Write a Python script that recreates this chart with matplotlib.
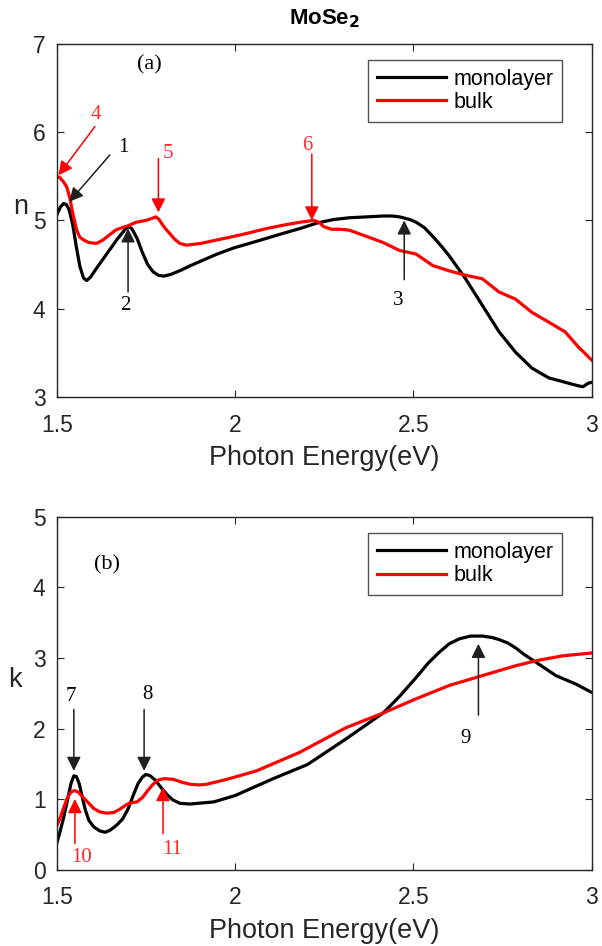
import numpy as np
from matplotlib import pyplot as plt

plt.rcParams['font.family'] = ['Liberation Sans', 'DejaVu Sans']

# (a) refractive index n
n_mono_x = [1.500, 1.51, 1.519, 1.527, 1.535, 1.545, 1.555, 1.565, 1.575, 1.584, 1.595,
            1.61, 1.64, 1.67, 1.69, 1.70, 1.71, 1.725, 1.74, 1.755, 1.77, 1.785, 1.80,
            1.82, 1.85, 1.87, 1.904, 1.95, 1.997, 2.04, 2.09, 2.14, 2.183, 2.229, 2.276,
            2.32, 2.368, 2.415, 2.44, 2.461, 2.49, 2.507, 2.53, 2.554, 2.58, 2.60, 2.646,
            2.693, 2.74, 2.786, 2.832, 2.879, 2.925, 2.962, 2.975, 2.99, 3.0]
n_mono_y = [5.06, 5.15, 5.19, 5.18, 5.12, 4.95, 4.70, 4.48, 4.35, 4.32, 4.36,
            4.45, 4.62, 4.79, 4.89, 4.93, 4.91, 4.80, 4.64, 4.50, 4.42, 4.38, 4.37,
            4.39, 4.44, 4.48, 4.54, 4.62, 4.69, 4.74, 4.80, 4.86, 4.91, 4.97, 5.01,
            5.03, 5.04, 5.05, 5.05, 5.04, 5.01, 4.98, 4.92, 4.82, 4.70, 4.60, 4.34,
            4.04, 3.74, 3.51, 3.33, 3.22, 3.17, 3.13, 3.12, 3.16, 3.17]
n_bulk_x = [1.500, 1.51, 1.52, 1.528, 1.537, 1.545, 1.556, 1.565, 1.575, 1.59, 1.612,
            1.63, 1.649, 1.665, 1.677, 1.70, 1.723, 1.75, 1.765, 1.778, 1.787, 1.80,
            1.815, 1.83, 1.845, 1.864, 1.904, 1.95, 1.997, 2.04, 2.09, 2.14, 2.183,
            2.22, 2.235, 2.248, 2.27, 2.294, 2.32, 2.368, 2.415, 2.461, 2.507, 2.554,
            2.60, 2.646, 2.693, 2.74, 2.786, 2.832, 2.879, 2.925, 2.962, 3.0]
n_bulk_y = [5.50, 5.48, 5.43, 5.38, 5.25, 5.08, 4.89, 4.81, 4.78, 4.75, 4.74,
            4.78, 4.84, 4.89, 4.91, 4.94, 4.98, 5.00, 5.02, 5.04, 5.01, 4.93,
            4.86, 4.79, 4.74, 4.72, 4.74, 4.78, 4.82, 4.86, 4.91, 4.95, 4.98,
            5.00, 4.98, 4.93, 4.90, 4.90, 4.89, 4.82, 4.75, 4.66, 4.62, 4.49,
            4.43, 4.38, 4.34, 4.19, 4.11, 3.96, 3.85, 3.74, 3.57, 3.42]

# (b) extinction coefficient k
k_mono_x = [1.500, 1.51, 1.519, 1.53, 1.54, 1.548, 1.555, 1.563, 1.572, 1.58, 1.59,
            1.603, 1.62, 1.636, 1.65, 1.668, 1.685, 1.70, 1.715, 1.728, 1.74, 1.75,
            1.762, 1.776, 1.79, 1.808, 1.825, 1.845, 1.874, 1.94, 2.0, 2.107, 2.203,
            2.31, 2.415, 2.46, 2.507, 2.54, 2.572, 2.60, 2.628, 2.66, 2.693, 2.72,
            2.74, 2.765, 2.787, 2.81, 2.843, 2.899, 2.955, 3.0]
k_mono_y = [0.37, 0.55, 0.73, 0.98, 1.22, 1.33, 1.32, 1.22, 1.02, 0.85, 0.70,
            0.61, 0.55, 0.53, 0.56, 0.63, 0.72, 0.86, 1.06, 1.22, 1.31, 1.35,
            1.33, 1.27, 1.18, 1.07, 0.99, 0.94, 0.93, 0.96, 1.05, 1.29, 1.49,
            1.85, 2.22, 2.45, 2.72, 2.92, 3.08, 3.20, 3.27, 3.31, 3.31, 3.29,
            3.26, 3.21, 3.14, 3.05, 2.94, 2.75, 2.63, 2.51]
k_bulk_x = [1.500, 1.51, 1.519, 1.53, 1.54, 1.55, 1.56, 1.575, 1.59, 1.603, 1.62,
            1.64, 1.66, 1.678, 1.695, 1.71, 1.725, 1.74, 1.755, 1.77, 1.785, 1.80,
            1.827, 1.85, 1.874, 1.90, 1.92, 1.977, 2.06, 2.18, 2.31, 2.415, 2.507,
            2.60, 2.693, 2.787, 2.843, 2.918, 3.0]
k_bulk_y = [0.62, 0.74, 0.87, 1.02, 1.10, 1.12, 1.10, 1.02, 0.94, 0.87, 0.82,
            0.80, 0.81, 0.86, 0.92, 0.95, 0.96, 1.02, 1.12, 1.21, 1.27, 1.29,
            1.28, 1.24, 1.21, 1.20, 1.21, 1.28, 1.40, 1.66, 2.01, 2.22, 2.42,
            2.61, 2.75, 2.89, 2.96, 3.03, 3.07]

# peak markers: label, text position, arrow start, arrow tip, colour
marks_n = [('1', (1.687, 5.83), (1.649, 5.74), (1.535, 5.21), 'k'),
           ('2', (1.691, 4.04), (1.70, 4.19), (1.70, 4.91), 'k'),
           ('3', (2.456, 4.10), (2.474, 4.33), (2.474, 5.00), 'k'),
           ('4', (1.610, 6.20), (1.607, 6.06), (1.505, 5.51), 'r'),
           ('5', (1.812, 5.76), (1.785, 5.70), (1.785, 5.09), 'r'),
           ('6', (2.203, 5.85), (2.215, 5.75), (2.215, 5.00), 'r')]
marks_k = [('7', (1.540, 2.46), (1.548, 2.27), (1.548, 1.40), 'k'),
           ('8', (1.755, 2.48), (1.745, 2.27), (1.745, 1.40), 'k'),
           ('9', (2.647, 1.86), (2.682, 2.19), (2.682, 3.20), 'k'),
           ('10', (1.569, 0.17), (1.551, 0.37), (1.551, 1.00), 'r'),
           ('11', (1.823, 0.28), (1.798, 0.51), (1.798, 1.17), 'r')]

text_col = {'k': 'black', 'r': '#ff2b2b'}
arrow_col = {'k': '#202020', 'r': 'red'}

fig = plt.figure(figsize=(6.02, 9.46), dpi=100)
ax1 = fig.add_axes([0.0942, 0.580, 0.889, 0.374])
ax2 = fig.add_axes([0.0942, 0.0807, 0.889, 0.373])


def style(ax, ylim, yticks):
    ax.set_xlim(1.5, 3.0)
    ax.set_ylim(*ylim)
    ax.set_xticks([1.5, 2, 2.5, 3])
    ax.set_xticklabels(['1.5', '2', '2.5', '3'])
    ax.set_yticks(yticks)
    ax.tick_params(direction='in', top=True, right=True, labelsize=16.5,
                   labelcolor='#262626', color='#262626', length=5)
    ax.tick_params(axis='x', pad=12)
    ax.tick_params(axis='y', pad=8)
    for s in ax.spines.values():
        s.set_color('#262626')
        s.set_linewidth(1.0)
    ax.set_xlabel('Photon Energy(eV)', fontsize=19.5, color='#262626', labelpad=6)
    leg = ax.legend(loc='upper right', fontsize=15.5, handlelength=3.2,
                    fancybox=False, edgecolor='#262626', borderpad=0.4,
                    labelspacing=0.1, handletextpad=0.35, borderaxespad=0,
                    bbox_to_anchor=(0.944, 0.953))
    leg.get_frame().set_linewidth(1.0)


def mark(ax, marks):
    for lab, tpos, start, tip, c in marks:
        ax.text(tpos[0], tpos[1], lab, color=text_col[c], fontsize=15,
                family='Liberation Serif', ha='center', va='center')
        ax.annotate('', xy=tip, xytext=start,
                    arrowprops=dict(arrowstyle='-|>', color=arrow_col[c],
                                    lw=1.1, mutation_scale=21,
                                    shrinkA=0, shrinkB=0))


ax1.plot(n_mono_x, n_mono_y, color='black', lw=2.3, label='monolayer')
ax1.plot(n_bulk_x, n_bulk_y, color='red', lw=2.3, label='bulk')
style(ax1, (3, 7), [3, 4, 5, 6, 7])
mark(ax1, marks_n)
ax1.text(1.761, 6.755, '(a)', fontsize=16, family='Liberation Serif',
         ha='center', va='center')
ax1.set_ylabel('n', rotation=0, fontsize=19.5, color='#262626', va='center')
ax1.yaxis.set_label_coords(-0.068, 0.538)
ax1.set_title(r'MoSe$_\mathbf{2}$', fontsize=16, fontweight='bold', pad=14)

ax2.plot(k_mono_x, k_mono_y, color='black', lw=2.3, label='monolayer')
ax2.plot(k_bulk_x, k_bulk_y, color='red', lw=2.3, label='bulk')
style(ax2, (0, 5), [0, 1, 2, 3, 4, 5])
mark(ax2, marks_k)
ax2.text(1.642, 4.32, '(b)', fontsize=16, family='Liberation Serif',
         ha='center', va='center')
ax2.set_ylabel('k', rotation=0, fontsize=19.5, color='#262626', va='center')
ax2.yaxis.set_label_coords(-0.078, 0.537)

fig.savefig('out.png', dpi=100)
